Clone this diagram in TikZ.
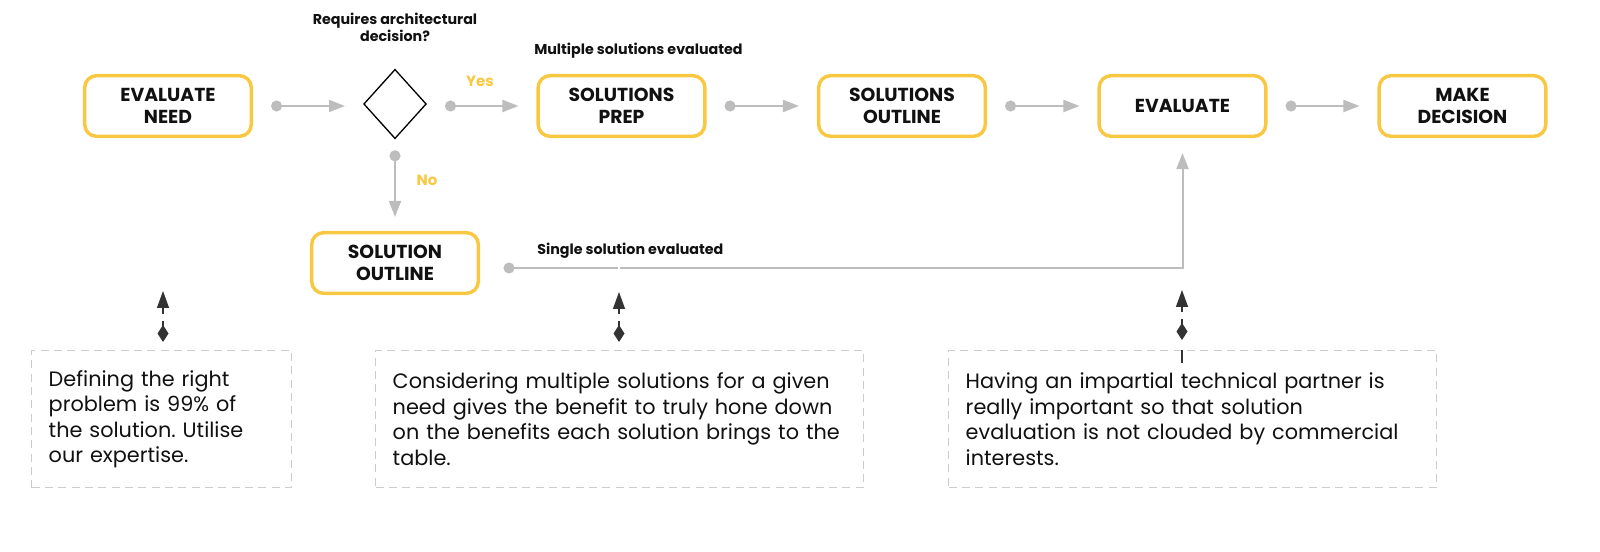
\documentclass[tikz,border=0pt]{standalone}
\usepackage{fontspec}
\setmainfont{Poppins}
\frenchspacing
\usetikzlibrary{arrows.meta,shapes.geometric,calc}
\definecolor{ylw}{HTML}{F9C843}
\definecolor{lgray}{HTML}{BDBDBD}
\definecolor{dgray}{HTML}{CCCCCC}
\definecolor{dark}{HTML}{333333}
\definecolor{txt}{HTML}{111111}
\begin{document}
\begin{tikzpicture}[x=0.75pt,y=-0.75pt,
 stage/.style={draw=ylw, line width=2.6pt, rounded corners=9pt, minimum width=125pt, minimum height=45.5pt, inner sep=0pt, align=center, font=\fontsize{14.1}{16.5}\selectfont\bfseries, text=txt},
 decide/.style={diamond, draw=black, line width=1pt, minimum width=47pt, minimum height=52pt, inner sep=0pt},
 flow/.style={draw=lgray, line width=1.5pt, {Circle[length=8.25pt]}-{Triangle[length=12pt,width=9pt]}, shorten <=13.5pt, shorten >=13.5pt},
 note/.style={draw=dgray, line width=1.1pt, dash pattern=on 6pt off 4pt, inner sep=0pt, align=left, font=\fontsize{15.6}{19.2}\selectfont, text=txt, anchor=north west, minimum height=102.75pt},
 lbl/.style={font=\fontsize{10.7}{12.75}\selectfont\bfseries, text=txt, align=center, inner sep=0pt},
 yn/.style={font=\fontsize{11.2}{13}\selectfont\bfseries, text=ylw, inner sep=0pt},
 annot/.style={draw=dark, line width=1.1pt, {Diamond[length=12.75pt,width=8.25pt]}-{Triangle[length=12.75pt,width=9pt]}, dash pattern=on 3.75pt off 5.25pt on 30pt off 1pt}
]
\useasboundingbox (0,0) rectangle (1600,552);

% main stages
\node[stage] (need) at (168,106) {EVALUATE\\NEED};
\node[decide] (dec) at (395,104) {};
\node[stage] (prep) at (621.5,106) {SOLUTIONS\\PREP};
\node[stage] (outl) at (902,106) {SOLUTIONS\\OUTLINE};
\node[stage] (eval) at (1182.5,106) {EVALUATE};
\node[stage] (make) at (1462.5,106) {MAKE\\DECISION};
\node[stage] (sol) at (395,263) {SOLUTION\\OUTLINE};

% labels
\node[lbl] (q) at (395,27) {Requires architectural\\decision?};
\node[lbl, anchor=west] (m) at (534,51) {Multiple solutions evaluated};
\node[lbl, anchor=west] (s) at (537,251) {Single solution evaluated};
\node[yn] (yes) at (480,81) {Yes};
\node[yn] (no) at (427,180) {No};

% flow connectors
\draw[flow] (need.east) -- (dec.west |- need.east);
\draw[flow] (dec.east |- prep.west) -- (prep.west);
\draw[flow] (prep.east) -- (outl.west);
\draw[flow] (outl.east) -- (eval.west);
\draw[flow] (eval.east) -- (make.west);
\draw[flow, shorten <=8.25pt, shorten >=10.5pt] (dec.south) -- (sol.north);
\draw[draw=lgray, line width=1.5pt, {Circle[length=8.25pt]}-{Triangle[length=12pt,width=9pt]}, shorten <=17.6pt, shorten >=11.25pt] ([yshift=-3.75pt]sol.east) -| (eval.south);
\fill[white] (617.5,265) rectangle (620,271);

% notes
\node[note, minimum width=195pt, text width=169.5pt] (n1) at (31,350) {Defining the right\\problem is 99\% of\\the solution. Utilise\\our expertise.};
\node[note, minimum width=366pt, text width=340.5pt] (n2) at (375,350) {Considering multiple solutions for a given\\need gives the benefit to truly hone down\\on the benefits each solution brings to the\\table.};
\node[note, minimum width=366pt, text width=340.5pt] (n3) at (948,350) {Having an impartial technical partner is\\really important so that solution\\evaluation is not clouded by commercial\\interests.};

% annotation pointers
\coordinate (a1s) at (163,342); \coordinate (a1e) at (163,291);
\coordinate (a2s) at (619,342); \coordinate (a2e) at (619,292);
\coordinate (a3s) at (1182,340); \coordinate (a3e) at (1182,290);
\coordinate (a3b) at (1182,363);
\draw[annot] (a1s) -- (a1e);
\draw[annot] (a2s) -- (a2e);
\draw[annot] (a3s) -- (a3e);
\draw[dark, line width=1.1pt] (n3.north -| a3b) -- (a3b);
\end{tikzpicture}
\end{document}
